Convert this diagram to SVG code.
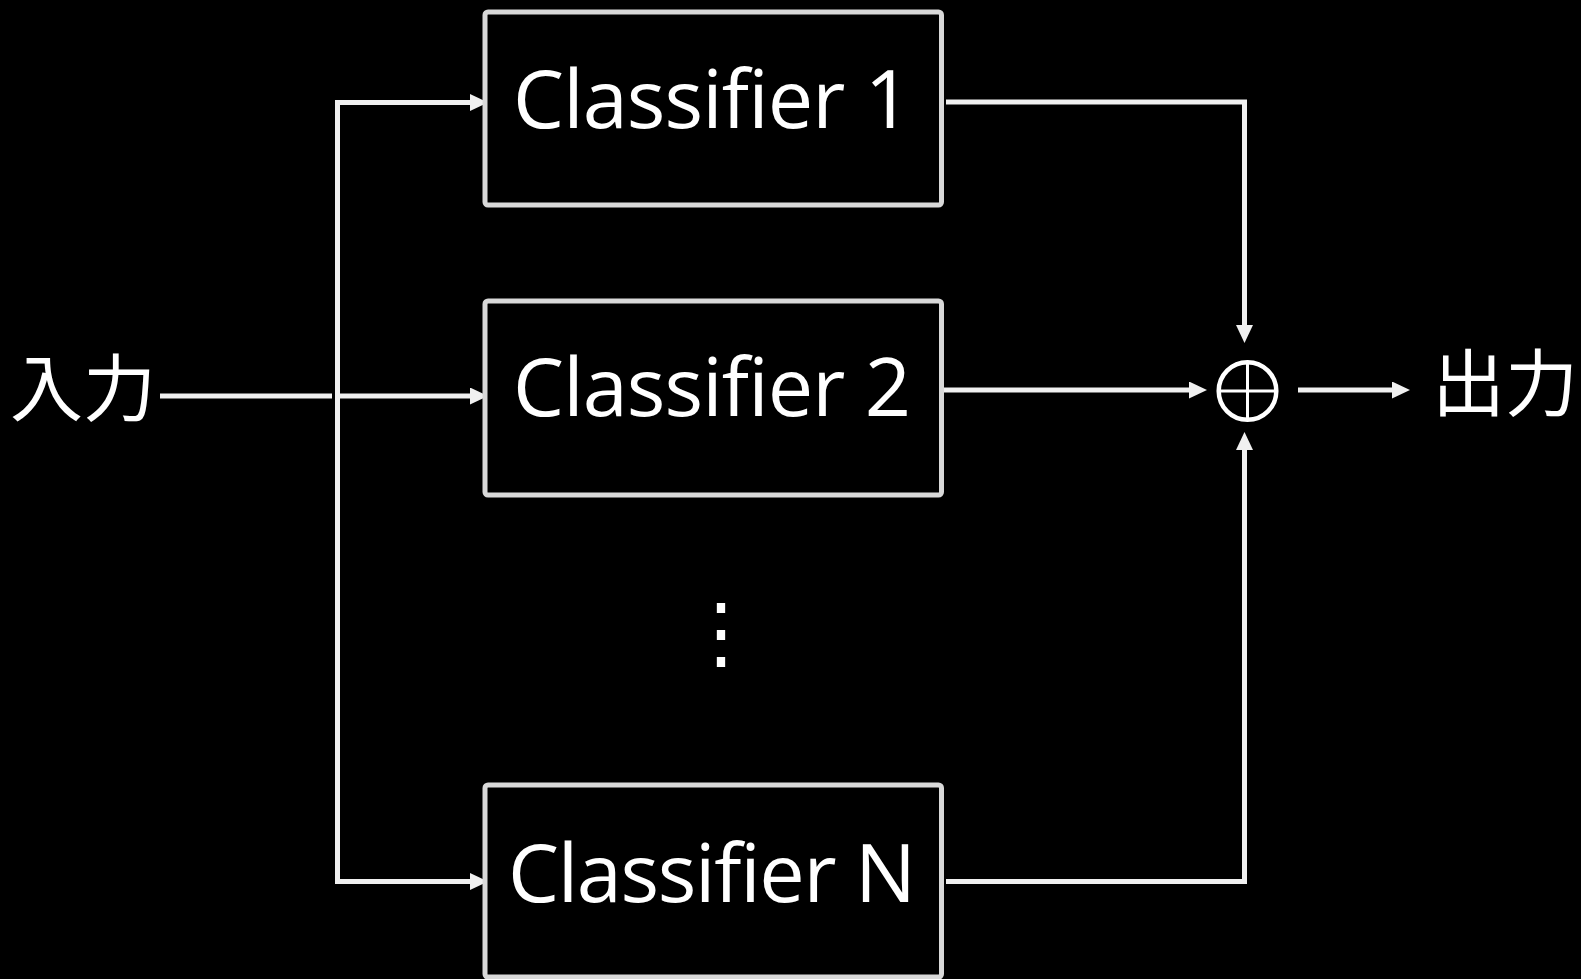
<svg xmlns="http://www.w3.org/2000/svg" width="1581" height="979" viewBox="0 0 1581 979">
  <defs>
    <style>
      .box { fill: #000000; stroke: #D9D9D9; stroke-width: 5; }
      .label { fill: #FFFFFF; font-family: "Open Sans", "DejaVu Sans", sans-serif; font-size: 81px; text-anchor: middle; font-variant-ligatures: none; font-feature-settings: "liga" 0; }
      .jp { fill: #FFFFFF; font-family: "Noto Sans CJK JP", "Noto Sans", sans-serif; font-size: 73px; }
      .wire { fill: none; stroke: #F0F0F0; stroke-width: 5; stroke-linejoin: miter; }
      .arrow { marker-end: url(#head); }
      .sum { fill: none; stroke: #FFFFFF; }
    </style>
    <marker id="head" markerUnits="userSpaceOnUse" markerWidth="18" markerHeight="18" refX="8" refY="8.5" orient="auto">
      <path d="M0,0 L18,8.5 L0,17 Z" fill="#F0F0F0"/>
    </marker>
  </defs>

  <rect width="1581" height="979" fill="#000000"/>

  <!-- connectors -->
  <g id="connectors">
    <!-- input feed -->
    <path class="wire" d="M160,396 H332"/>
    <path class="wire" d="M337.5,100 V884"/>
    <path class="wire arrow" d="M335,102.5 H478"/>
    <path class="wire arrow" d="M340,396 H478"/>
    <path class="wire arrow" d="M335,881.5 H478"/>
    <!-- classifier outputs into the summing node -->
    <path class="wire arrow" d="M946,102 H1244.5 V333"/>
    <path class="wire arrow" d="M944,390 H1197"/>
    <path class="wire arrow" d="M946,881.5 H1244.5 V442"/>
    <!-- result -->
    <path class="wire arrow" d="M1298,390 H1400"/>
  </g>

  <g id="input">
    <text class="jp" x="10" y="415">入力</text>
  </g>

  <g id="classifier-1">
    <rect class="box" x="485" y="12" width="456.5" height="193" rx="3"/>
    <text class="label" x="712" y="128" textLength="398" lengthAdjust="spacing">Classifier 1</text>
  </g>

  <g id="classifier-2">
    <rect class="box" x="485" y="301" width="456.5" height="194" rx="3"/>
    <text class="label" x="712" y="416" textLength="398" lengthAdjust="spacing">Classifier 2</text>
  </g>

  <g id="ellipsis">
    <text x="721" y="660" fill="#FFFFFF" font-family="Noto Sans CJK JP, sans-serif" font-size="80" text-anchor="middle">⋮</text>
  </g>

  <g id="classifier-n">
    <rect class="box" x="485" y="785" width="456.5" height="192" rx="3"/>
    <text class="label" x="712" y="902" textLength="408" lengthAdjust="spacing">Classifier N</text>
  </g>

  <g id="sum">
    <circle class="sum" cx="1247.5" cy="391" r="28.8" stroke-width="4.5"/>
    <path class="sum" d="M1219,391 H1276 M1247.5,362 V420" stroke-width="3"/>
  </g>

  <g id="output">
    <text class="jp" x="1432" y="410">出力</text>
  </g>
</svg>
